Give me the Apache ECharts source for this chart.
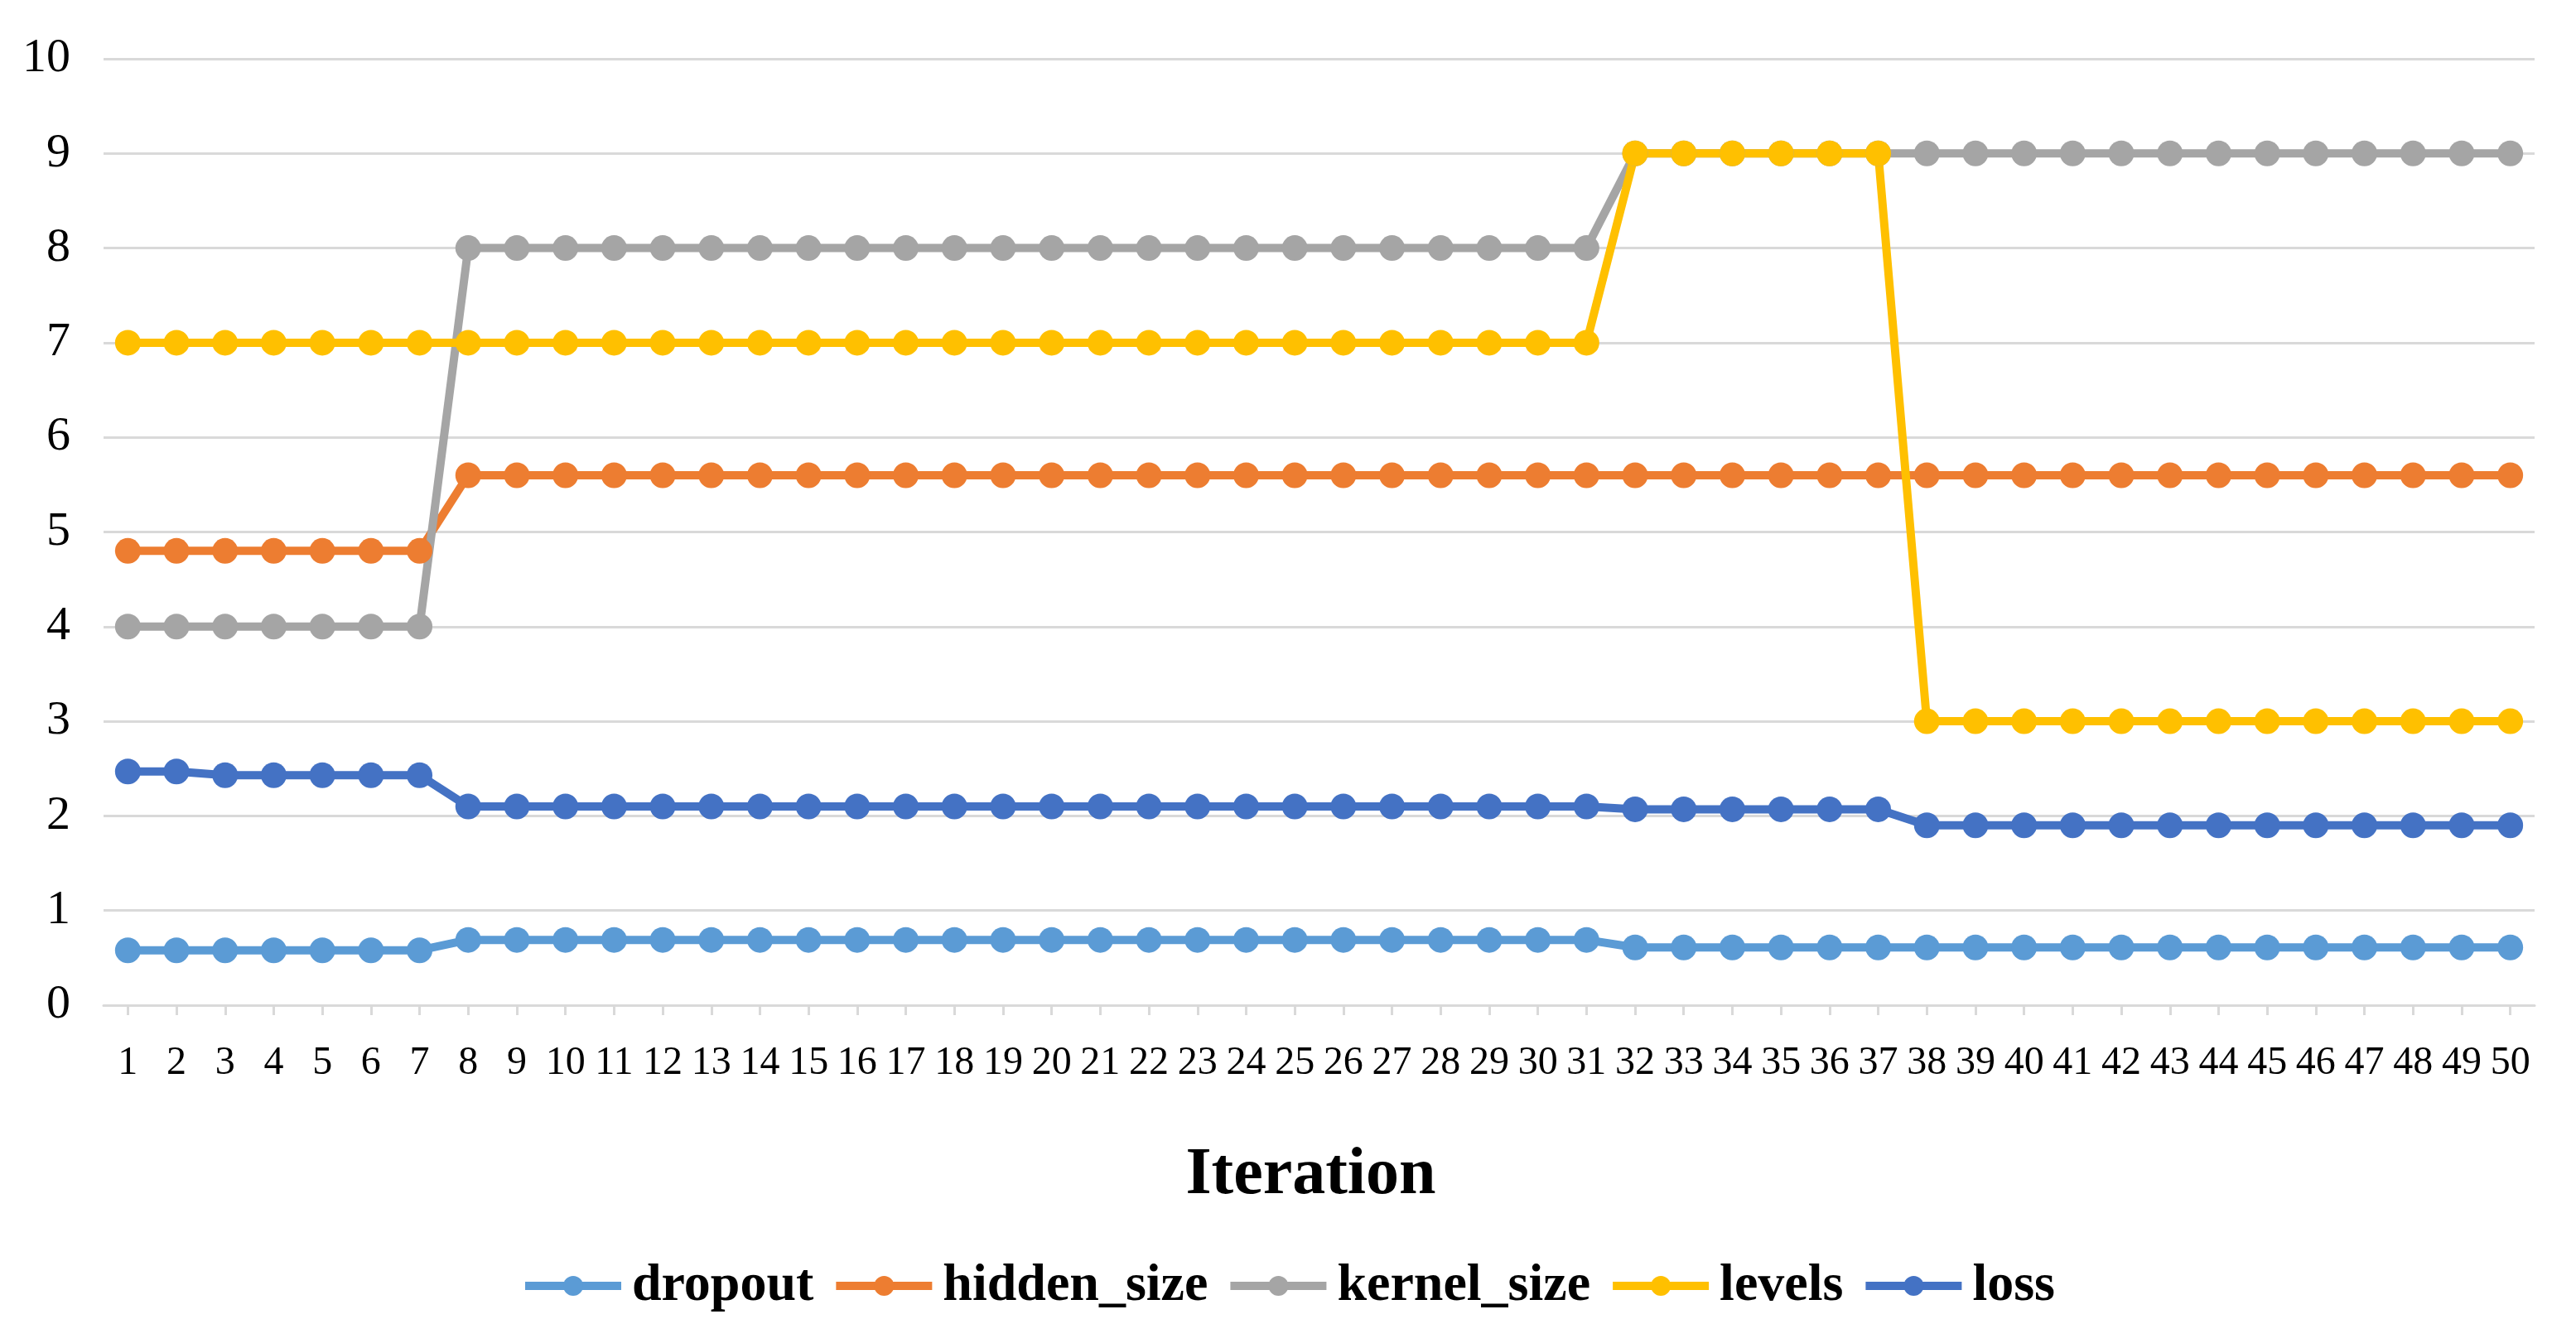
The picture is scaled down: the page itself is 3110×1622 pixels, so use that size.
<!DOCTYPE html>
<html>
<head>
<meta charset="utf-8">
<script src="https://cdn.jsdelivr.net/npm/echarts@6/dist/echarts.min.js"></script>
<style>
  html, body { margin: 0; padding: 0; background: #fff; }
  #chart { width: 3110px; height: 1622px; }
</style>
</head>
<body>
<div id="chart"></div>
<script>
const iterations = Array.from({ length: 50 }, (_, i) => String(i + 1))

// values, per iteration
const dropout = [
  0.58, 0.58, 0.58, 0.58, 0.58, 0.58, 0.58,
  0.69, 0.69, 0.69, 0.69, 0.69, 0.69, 0.69, 0.69, 0.69, 0.69, 0.69, 0.69,
  0.69, 0.69, 0.69, 0.69, 0.69, 0.69, 0.69, 0.69, 0.69, 0.69, 0.69, 0.69,
  0.61, 0.61, 0.61, 0.61, 0.61, 0.61, 0.61, 0.61, 0.61, 0.61,
  0.61, 0.61, 0.61, 0.61, 0.61, 0.61, 0.61, 0.61, 0.61
]
const hiddenSize = [
  4.8, 4.8, 4.8, 4.8, 4.8, 4.8, 4.8,
  5.6, 5.6, 5.6, 5.6, 5.6, 5.6, 5.6, 5.6, 5.6, 5.6, 5.6, 5.6,
  5.6, 5.6, 5.6, 5.6, 5.6, 5.6, 5.6, 5.6, 5.6, 5.6, 5.6, 5.6,
  5.6, 5.6, 5.6, 5.6, 5.6, 5.6, 5.6, 5.6, 5.6, 5.6,
  5.6, 5.6, 5.6, 5.6, 5.6, 5.6, 5.6, 5.6, 5.6
]
const kernelSize = [
  4, 4, 4, 4, 4, 4, 4,
  8, 8, 8, 8, 8, 8, 8, 8, 8, 8, 8, 8,
  8, 8, 8, 8, 8, 8, 8, 8, 8, 8, 8, 8,
  9, 9, 9, 9, 9, 9, 9, 9, 9, 9,
  9, 9, 9, 9, 9, 9, 9, 9, 9
]
const levels = [
  7, 7, 7, 7, 7, 7, 7,
  7, 7, 7, 7, 7, 7, 7, 7, 7, 7, 7, 7,
  7, 7, 7, 7, 7, 7, 7, 7, 7, 7, 7, 7,
  9, 9, 9, 9, 9, 9,
  3, 3, 3, 3, 3, 3, 3, 3, 3, 3, 3, 3, 3
]
const loss = [
  2.47, 2.47, 2.43, 2.43, 2.43, 2.43, 2.43,
  2.1, 2.1, 2.1, 2.1, 2.1, 2.1, 2.1, 2.1, 2.1, 2.1, 2.1, 2.1,
  2.1, 2.1, 2.1, 2.1, 2.1, 2.1, 2.1, 2.1, 2.1, 2.1, 2.1, 2.1,
  2.07, 2.07, 2.07, 2.07, 2.07, 2.07,
  1.9, 1.9, 1.9, 1.9, 1.9, 1.9, 1.9, 1.9, 1.9, 1.9, 1.9, 1.9, 1.9
]

const FONT = 'Liberation Serif'

function lineSeries(name, data, color) {
  return {
    name: name,
    type: 'line',
    data: data,
    symbol: 'circle',
    symbolSize: 31,
    itemStyle: { color: color },
    lineStyle: { color: color, width: 10 },
    emphasis: { disabled: true }
  }
}

const option = {
  animation: false,
  backgroundColor: '#fff',
  grid: { left: 125, right: 50, top: 71, bottom: 408 },
  legend: {
    bottom: 32,
    left: 'center',
    itemWidth: 116,
    itemHeight: 30,
    itemGap: 22,
    lineStyle: { width: 10 },
    textStyle: { fontFamily: FONT, fontSize: 64, fontWeight: 'bold', color: '#000', padding: [0, 0, 0, 8] },
    data: ['dropout', 'hidden_size', 'kernel_size', 'levels', 'loss']
  },
  xAxis: {
    type: 'category',
    data: iterations,
    name: 'Iteration',
    nameLocation: 'middle',
    nameGap: 166,
    nameTextStyle: { fontFamily: FONT, fontSize: 80, fontWeight: 'bold', color: '#000', padding: [0, 20, 0, 0] },
    axisLine: { lineStyle: { color: '#d9d9d9', width: 3 } },
    axisTick: { show: true, alignWithLabel: true, length: 12, lineStyle: { color: '#d9d9d9', width: 3 } },
    axisLabel: { interval: 0, fontFamily: FONT, fontSize: 48, color: '#000', margin: 46 }
  },
  yAxis: {
    type: 'value',
    min: 0,
    max: 10,
    interval: 1,
    axisLine: { show: false },
    axisTick: { show: false },
    splitLine: { lineStyle: { color: '#d9d9d9', width: 3 } },
    axisLabel: { fontFamily: FONT, fontSize: 58, color: '#000', margin: 40 }
  },
  series: [
    lineSeries('dropout', dropout, '#5B9BD5'),
    lineSeries('hidden_size', hiddenSize, '#ED7D31'),
    lineSeries('kernel_size', kernelSize, '#A5A5A5'),
    lineSeries('levels', levels, '#FFC000'),
    lineSeries('loss', loss, '#4472C4')
  ]
}

const myChart = echarts.init(document.getElementById('chart'))
myChart.setOption(option)
</script>
</body>
</html>
